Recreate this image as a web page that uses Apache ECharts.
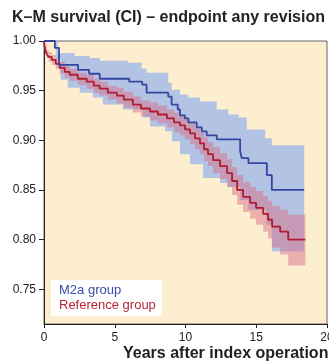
<!DOCTYPE html>
<html><head><meta charset="utf-8">
<script src="https://cdn.jsdelivr.net/npm/echarts@6/dist/echarts.min.js"></script>
<style>html,body{margin:0;padding:0;background:#fff}#c{width:329px;height:364px}</style>
</head><body><div id="c"></div>
<script>
const xTicks = [0, 5, 10, 15, 20];
const yTicks = [0.75, 0.80, 0.85, 0.90, 0.95, 1.00];

// M2a group (blue)
const m2aTime = [0, 0.77, 1.06, 2.41, 3.19, 3.94, 6.02, 6.94, 7.25, 8.78, 9.02, 9.45, 9.61, 9.96, 10.2, 10.79, 11.15, 11.5, 12.21, 13.86, 13.98, 14.45, 15.75, 16.1, 18.39];
const m2aSurv = [1.000, 0.993, 0.976, 0.971, 0.967, 0.962, 0.959, 0.956, 0.948, 0.944, 0.936, 0.931, 0.925, 0.922, 0.918, 0.913, 0.909, 0.905, 0.901, 0.889, 0.882, 0.877, 0.865, 0.850, 0.850];
const m2aUpperTime = [0, 0.97, 2.17, 3.24, 3.94, 5.95, 6.9, 7.25, 8.78, 9.02, 9.61, 10.2, 11.03, 12.21, 13.03, 13.74, 14.33, 15.63, 16.1, 18.39];
const m2aUpper = [1.000, 0.988, 0.985, 0.983, 0.980, 0.978, 0.972, 0.968, 0.958, 0.951, 0.946, 0.943, 0.939, 0.931, 0.926, 0.923, 0.911, 0.902, 0.895, 0.895];
const m2aLowerTime = [0, 0.83, 1.18, 1.68, 2.53, 3.45, 4.16, 5.57, 6.99, 7.49, 8.55, 9.04, 9.61, 10.32, 11.24, 12.44, 13.01, 13.86, 14.43, 15.7, 16.1, 18.39];
const m2aLower = [1.000, 0.981, 0.961, 0.953, 0.948, 0.943, 0.936, 0.931, 0.923, 0.914, 0.909, 0.899, 0.886, 0.876, 0.862, 0.857, 0.853, 0.840, 0.830, 0.815, 0.788, 0.788];

// Reference group (red)
const refTime = [0, 0.04, 0.08, 0.19, 0.33, 0.55, 0.83, 1.11, 1.47, 1.82, 2.39, 3.02, 3.52, 3.94, 4.51, 5.15, 5.64, 6.28, 6.85, 7.49, 8.05, 8.69, 9.19, 9.61, 9.96, 10.32, 10.67, 11.02, 11.31, 11.59, 11.95, 12.44, 12.94, 13.29, 13.65, 14.07, 14.57, 14.99, 15.49, 15.84, 16.12, 16.69, 17.26, 18.47];
const refSurv = [1.000, 0.995, 0.991, 0.987, 0.984, 0.981, 0.977, 0.973, 0.969, 0.966, 0.962, 0.959, 0.955, 0.952, 0.948, 0.945, 0.941, 0.936, 0.932, 0.929, 0.926, 0.922, 0.918, 0.915, 0.911, 0.907, 0.902, 0.897, 0.891, 0.886, 0.880, 0.874, 0.867, 0.859, 0.850, 0.843, 0.837, 0.832, 0.826, 0.820, 0.813, 0.808, 0.800, 0.800];
const refUpper = [1.000, 0.998, 0.995, 0.991, 0.989, 0.986, 0.982, 0.979, 0.975, 0.972, 0.968, 0.966, 0.962, 0.959, 0.955, 0.953, 0.949, 0.944, 0.940, 0.938, 0.935, 0.931, 0.928, 0.925, 0.921, 0.918, 0.913, 0.908, 0.903, 0.898, 0.893, 0.887, 0.881, 0.873, 0.865, 0.858, 0.853, 0.849, 0.844, 0.839, 0.834, 0.830, 0.825, 0.825];
const refLower = [1.000, 0.992, 0.987, 0.983, 0.979, 0.976, 0.972, 0.967, 0.963, 0.960, 0.956, 0.952, 0.948, 0.945, 0.941, 0.937, 0.933, 0.928, 0.924, 0.920, 0.917, 0.913, 0.908, 0.905, 0.901, 0.896, 0.891, 0.886, 0.879, 0.874, 0.867, 0.861, 0.853, 0.845, 0.835, 0.828, 0.821, 0.815, 0.808, 0.801, 0.792, 0.785, 0.774, 0.774];

const FONT = '"Liberation Sans", Arial, Helvetica, sans-serif';

function stepPts(ts, vs) {
  const out = [];
  for (let i = 0; i < ts.length; i++) {
    if (i > 0) out.push([ts[i], vs[i - 1]]);
    out.push([ts[i], vs[i]]);
  }
  return out;
}
function pairs(ts, vs) { return ts.map((t, i) => [t, vs[i]]); }
function band(name, upT, upV, loT, loV, color, z) {
  const poly = stepPts(upT, upV).concat(stepPts(loT, loV).reverse());
  return {
    type: 'custom', name: name, silent: true, z: z, data: [[0, 1]],
    renderItem: function (params, api) {
      return { type: 'polygon', shape: { points: poly.map(p => api.coord(p)) }, style: { fill: color } };
    }
  };
}

const chart = echarts.init(document.getElementById('c'), null, { renderer: 'canvas' });
chart.setOption({
  animation: false,
  backgroundColor: '#ffffff',
  textStyle: { fontFamily: FONT },
  title: {
    text: 'K\u2013M survival (CI) \u2013 endpoint any revision',
    left: 12, top: 10, padding: 0,
    textStyle: { fontFamily: FONT, fontSize: 16, fontWeight: 'bold', color: '#222' }
  },
  grid: {
    left: 44, right: 2, top: 41, bottom: 40,
    outerBoundsMode: 'none', containLabel: false,
    show: true, backgroundColor: '#fdeecf', borderColor: '#666', borderWidth: 1
  },
  legend: {
    left: 51, top: 280, orient: 'vertical',
    backgroundColor: '#ffffff', padding: [4, 6, 4, 2], itemGap: 2,
    itemWidth: 0, itemHeight: 0, selectedMode: false,
    textStyle: { fontFamily: FONT, fontSize: 13, lineHeight: 13 },
    data: [
      { name: 'M2a group', textStyle: { color: '#3a4ea8' } },
      { name: 'Reference group', textStyle: { color: '#b42636' } }
    ]
  },
  xAxis: {
    type: 'value', min: 0, max: 20, interval: 5,
    axisLine: { show: true, lineStyle: { color: '#222', width: 1 } },
    axisTick: { show: true, length: 4, lineStyle: { color: '#222' } },
    axisLabel: { color: '#222', fontSize: 12, margin: 8, fontFamily: FONT, formatter: v => String(v) },
    splitLine: { show: false }
  },
  yAxis: {
    type: 'value', min: 0.715, max: 1.0,
    axisLine: { show: true, lineStyle: { color: '#222', width: 1 } },
    axisTick: { show: true, length: 5, customValues: yTicks, lineStyle: { color: '#222' } },
    axisLabel: { color: '#222', fontSize: 12, margin: 8, fontFamily: FONT, customValues: yTicks, formatter: v => v.toFixed(2) },
    splitLine: { show: false }
  },
  graphic: [{
    type: 'text', left: 123, top: 346, silent: true,
    style: { text: 'Years after index operation', fill: '#222', font: 'bold 16px ' + FONT }
  }],
  series: [
    band('M2a CI', m2aUpperTime, m2aUpper, m2aLowerTime, m2aLower, '#b2c3e3', 1),
    band('Reference CI', refTime, refUpper, refTime, refLower, 'rgba(218,112,140,0.5)', 2),
    {
      type: 'line', name: 'Reference group', step: 'end', showSymbol: false, z: 3,
      data: pairs(refTime, refSurv), color: '#b01c30',
      lineStyle: { color: '#b01c30', width: 1.8 }
    },
    {
      type: 'line', name: 'M2a group', step: 'end', showSymbol: false, z: 4,
      data: pairs(m2aTime, m2aSurv), color: '#3446a0',
      lineStyle: { color: '#3446a0', width: 1.8 }
    }
  ]
});
</script>
</body></html>
